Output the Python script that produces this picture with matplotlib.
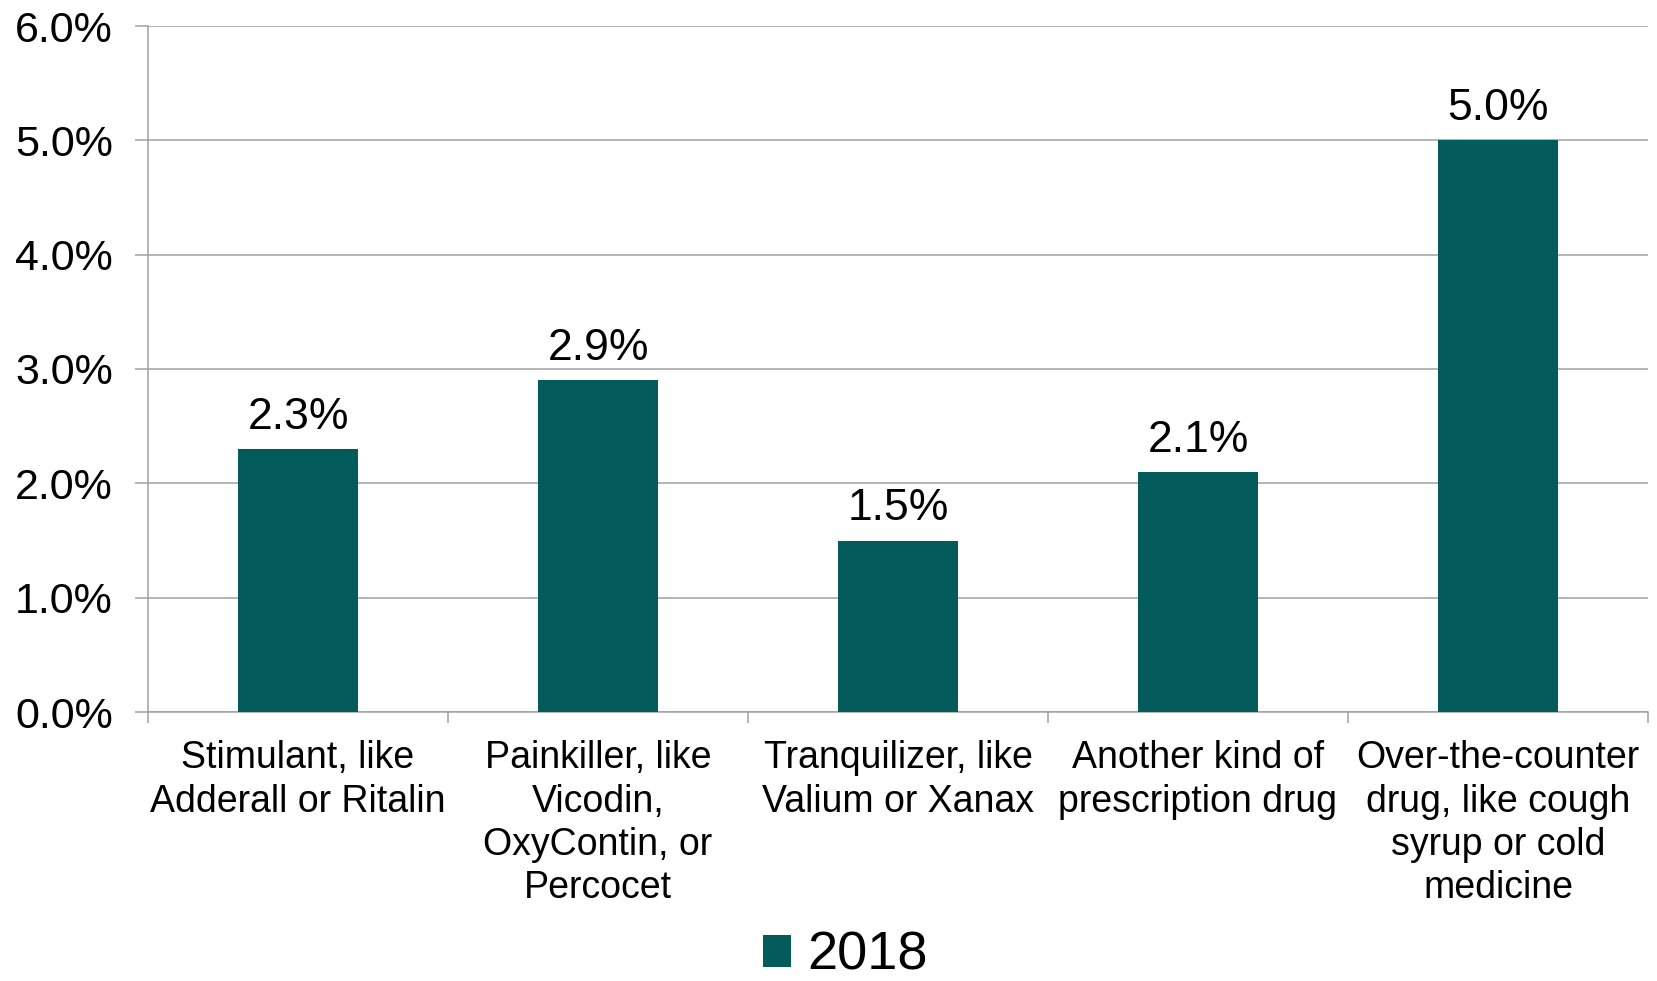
import matplotlib
matplotlib.use("Agg")
import matplotlib.pyplot as plt
import numpy as np
from matplotlib.ticker import FuncFormatter, FixedLocator
from matplotlib.patches import Patch

categories = [
    "Stimulant, like\nAdderall or Ritalin",
    "Painkiller, like\nVicodin,\nOxyContin, or\nPercocet",
    "Tranquilizer, like\nValium or Xanax",
    "Another kind of\nprescription drug",
    "Over-the-counter\ndrug, like cough\nsyrup or cold\nmedicine",
]
values_2018 = [2.3, 2.9, 1.5, 2.1, 5.0]
series_name = "2018"
y_ticks = [0, 1, 2, 3, 4, 5, 6]

plt.rcParams['font.family'] = ['Liberation Sans', 'DejaVu Sans']
color = "#035B5B"
grid_color = "#A0A0A0"

fig = plt.figure(figsize=(16.58, 9.81), dpi=100)
ax = fig.add_axes([148/1658, 1-712/981, 1500/1658, 686/981])

x = np.arange(len(categories))
bars = ax.bar(x, values_2018, width=0.4, color=color, zorder=3)
for xi, v in zip(x, values_2018):
    ax.annotate(f"{v:.1f}%", (xi, v), xytext=(0, 8), textcoords="offset points",
                ha="center", va="bottom", fontsize=32)

ax.set_xlim(-0.5, len(categories) - 0.5)
ax.set_ylim(0, 6)
ax.yaxis.set_major_locator(FixedLocator(y_ticks))
ax.yaxis.set_major_formatter(FuncFormatter(lambda v, p: f"{v:.1f}%"))
ax.tick_params(axis='y', labelsize=31, length=9.4, width=1.1, color=grid_color, pad=16)
ax.set_xticks(x)
ax.set_xticklabels(categories, fontsize=27, linespacing=1.26)
ax.tick_params(axis='x', which='major', length=0, pad=20.5)
ax.set_xticks(np.arange(-0.5, len(categories), 1.0), minor=True)
ax.tick_params(axis='x', which='minor', length=8, width=1.1, color=grid_color)

ax.grid(axis='y', color=grid_color, linewidth=1.1, zorder=0)
ax.set_axisbelow(True)
for s in ['top', 'right']:
    ax.spines[s].set_visible(False)
for s in ['left', 'bottom']:
    ax.spines[s].set_color(grid_color)
    ax.spines[s].set_linewidth(1.1)

handle = Patch(facecolor=color, edgecolor='none')
fig.legend([handle], [series_name], loc='center', bbox_to_anchor=(845/1658, 1-956/981),
           frameon=False, fontsize=39, handlelength=0.52, handleheight=0.52,
           handletextpad=0.3, borderpad=0)

fig.savefig("out.png", dpi=100)
